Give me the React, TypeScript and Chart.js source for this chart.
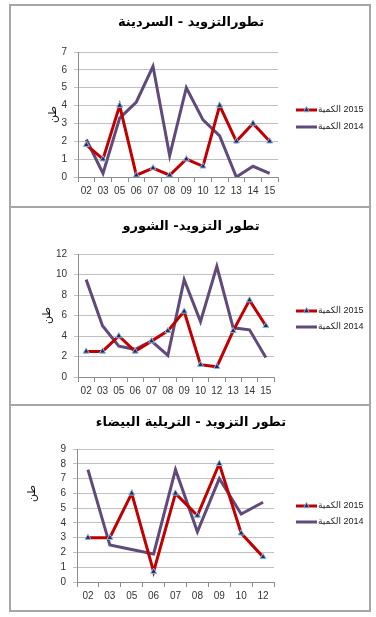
import React, { useEffect, useRef } from 'react';
import { Chart, registerables } from 'chart.js';
Chart.register(...registerables);

const FONT = "'Liberation Sans', 'DejaVu Sans', Arial, sans-serif";
const AR_FONT = "'DejaVu Sans', sans-serif";

// ---- Data ----
const sardineTitle = 'تطورالتزويد - السردينة';
const sardineCats = ['02', '03', '05', '06', '07', '08', '09', '10', '12', '13', '14', '15'];
const sardine2015 = [1.8, 1.0, 4.0, 0.1, 0.5, 0.1, 1.0, 0.6, 4.0, 2.0, 3.0, 2.0];
const sardine2014 = [2.1, 0.2, 3.3, 4.2, 6.2, 1.2, 5.0, 3.2, 2.3, 0.0, 0.6, 0.2];

const shouroTitle = 'تطور التزويد- الشورو';
const shouroCats = ['02', '03', '05', '06', '07', '08', '09', '10', '12', '13', '14', '15'];
const shouro2015 = [2.5, 2.5, 4.0, 2.5, 3.5, 4.5, 6.4, 1.2, 1.0, 4.5, 7.5, 5.0];
const shouro2014 = [9.5, 5.0, 3.0, 2.7, 3.5, 2.1, 9.5, 5.4, 10.8, 4.8, 4.6, 1.9];

const trilliaTitle = 'تطور التزويد - التريلية البيضاء';
const trilliaCats = ['02', '03', '05', '06', '07', '08', '09', '10', '12'];
const trillia2015 = [3.0, 3.0, 6.0, 0.7, 6.0, 4.5, 8.0, 3.3, 1.7];
const trillia2014 = [7.6, 2.5, 2.2, 1.9, 7.6, 3.4, 7.0, 4.6, 5.4];

const label2015 = '2015 الكمية';
const label2014 = '2014 الكمية';
const yAxisTitle = 'طن';

// ---- Plugins ----
const sideLegend = {
  id: 'sideLegend',
  afterDraw(chart: any, _args: any, opts: any) {
    const ctx = chart.ctx;
    ctx.save();
    chart.data.datasets.forEach((ds: any, i: number) => {
      const y = opts.ys[i];
      const x0 = opts.x;
      const len = 21;
      ctx.strokeStyle = ds.borderColor;
      ctx.lineWidth = 3;
      ctx.beginPath();
      ctx.moveTo(x0, y);
      ctx.lineTo(x0 + len, y);
      ctx.stroke();
      if (ds.pointRadius > 0) {
        const r = ds.pointRadius;
        const cx = x0 + len / 2;
        ctx.beginPath();
        ctx.moveTo(cx, y - r);
        ctx.lineTo(cx - r * 0.866, y + r / 2);
        ctx.lineTo(cx + r * 0.866, y + r / 2);
        ctx.closePath();
        ctx.fillStyle = ds.pointBackgroundColor;
        ctx.fill();
        ctx.lineWidth = ds.pointBorderWidth;
        ctx.strokeStyle = ds.pointBorderColor;
        ctx.stroke();
      }
      ctx.fillStyle = '#222';
      ctx.font = `9px ${FONT}`;
      ctx.direction = 'rtl';
      ctx.textAlign = 'left';
      ctx.textBaseline = 'middle';
      ctx.fillText(ds.label, x0 + len + 1, y);
    });
    ctx.restore();
  },
};

const yTitlePlugin = {
  id: 'yTitle',
  afterDraw(chart: any, _args: any, opts: any) {
    const ctx = chart.ctx;
    const a = chart.chartArea;
    ctx.save();
    ctx.translate(opts.x, (a.top + a.bottom) / 2 + opts.dy);
    ctx.rotate(-Math.PI / 2);
    ctx.fillStyle = '#111';
    ctx.font = `11px ${AR_FONT}`;
    ctx.textAlign = 'center';
    ctx.textBaseline = 'middle';
    ctx.fillText(yAxisTitle, 0, 0);
    ctx.restore();
  },
};

const titlePlugin = {
  id: 'panelTitle',
  afterDraw(chart: any, _args: any, opts: any) {
    const ctx = chart.ctx;
    ctx.save();
    ctx.fillStyle = '#000';
    ctx.font = `bold 13px ${AR_FONT}`;
    ctx.textAlign = 'center';
    ctx.textBaseline = 'middle';
    ctx.fillText(opts.text, chart.width / 2 + 1, opts.y);
    ctx.restore();
  },
};

type PanelProps = {
  title: string;
  cats: string[];
  s2015: number[];
  s2014: number[];
  yMax: number;
  step: number;
  width: number;
  height: number;
  padRight: number;
  padTop: number;
  yWidth: number;
  xHeight: number;
  titleY: number;
  legendX: number;
  legendYs: number[];
  yTitleX: number;
  yTitleDy: number;
};

function Panel(p: PanelProps) {
  const ref = useRef<HTMLCanvasElement | null>(null);
  useEffect(() => {
    if (!ref.current) return;
    const chart = new Chart(ref.current, {
      type: 'line',
      data: {
        labels: p.cats,
        datasets: [
          {
            label: label2015,
            data: p.s2015,
            borderColor: '#C00000',
            backgroundColor: '#C00000',
            borderWidth: 3,
            pointStyle: 'triangle',
            pointRadius: 3.5,
            pointBackgroundColor: '#1F2D5C',
            pointBorderColor: '#8DB4E2',
            pointBorderWidth: 1,
            tension: 0,
          },
          {
            label: label2014,
            data: p.s2014,
            borderColor: '#604A7B',
            backgroundColor: '#604A7B',
            borderWidth: 3,
            pointRadius: 0,
            tension: 0,
          },
        ],
      },
      options: {
        animation: false,
        responsive: false,
        devicePixelRatio: 1,
        layout: { padding: { left: 0, right: p.padRight, top: p.padTop, bottom: 0 } },
        plugins: {
          legend: { display: false },
          tooltip: { enabled: false },
          title: { display: false },
          sideLegend: { x: p.legendX, ys: p.legendYs },
          yTitle: { x: p.yTitleX, dy: p.yTitleDy },
          panelTitle: { text: p.title, y: p.titleY },
        } as any,
        scales: {
          x: {
            type: 'category',
            offset: true,
            grid: {
              offset: true,
              drawOnChartArea: false,
              drawTicks: true,
              tickLength: 5,
              color: '#8c8c8c',
            },
            border: { display: true, color: '#8c8c8c' },
            ticks: {
              color: '#333',
              font: { family: FONT, size: 10 },
              padding: 3,
              maxRotation: 0,
              autoSkip: false,
            },
            afterFit: (s: any) => {
              s.height = p.xHeight;
            },
          },
          y: {
            min: 0,
            max: p.yMax,
            ticks: {
              stepSize: p.step,
              autoSkip: false,
              color: '#333',
              font: { family: FONT, size: 10 },
              padding: 7,
            },
            grid: { color: '#c0c0c0', drawTicks: true, tickLength: 4 },
            border: { display: true, color: '#8c8c8c' },
            afterFit: (s: any) => {
              s.width = p.yWidth;
            },
          },
        },
      },
      plugins: [sideLegend, yTitlePlugin, titlePlugin],
    });
    return () => chart.destroy();
  }, []);
  return (
    <canvas
      ref={ref}
      width={p.width}
      height={p.height}
      style={{ display: 'block', width: p.width, height: p.height }}
    />
  );
}

export default function App() {
  const border = '2px solid #a6a6a6';
  return (
    <div
      style={{
        position: 'absolute',
        left: 9,
        top: 4,
        width: 362,
        height: 608,
        boxSizing: 'border-box',
        border,
        background: '#fff',
      }}
    >
      <div style={{ height: 200 }}>
        <Panel
          title={sardineTitle}
          cats={sardineCats}
          s2015={sardine2015}
          s2014={sardine2014}
          yMax={7}
          step={1}
          width={358}
          height={200}
          padRight={91}
          padTop={46}
          yWidth={67}
          xHeight={29}
          titleY={17}
          legendX={285}
          legendYs={[104, 121]}
          yTitleX={42}
          yTitleDy={0}
        />
      </div>
      <div style={{ height: 196, borderTop: border }}>
        <Panel
          title={shouroTitle}
          cats={shouroCats}
          s2015={shouro2015}
          s2014={shouro2014}
          yMax={12}
          step={2}
          width={358}
          height={196}
          padRight={95}
          padTop={46}
          yWidth={67}
          xHeight={27}
          titleY={19}
          legendX={285}
          legendYs={[103, 119]}
          yTitleX={36}
          yTitleDy={0}
        />
      </div>
      <div style={{ height: 204, borderTop: border }}>
        <Panel
          title={trilliaTitle}
          cats={trilliaCats}
          s2015={trillia2015}
          s2014={trillia2014}
          yMax={9}
          step={1}
          width={358}
          height={204}
          padRight={95}
          padTop={43}
          yWidth={66}
          xHeight={28}
          titleY={17}
          legendX={285}
          legendYs={[100, 116]}
          yTitleX={21}
          yTitleDy={-22}
        />
      </div>
    </div>
  );
}
